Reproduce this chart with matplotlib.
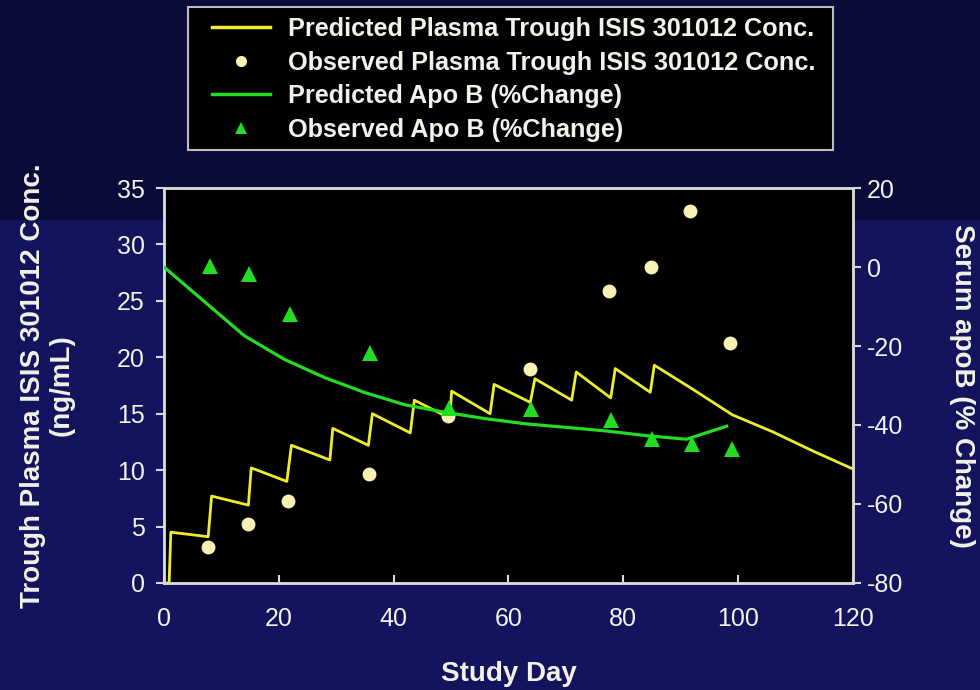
import matplotlib
matplotlib.use('Agg')
from matplotlib import pyplot as plt
from matplotlib.lines import Line2D
from matplotlib.patches import Rectangle

# ----------------------- Data -------------------------------------------------------------------
# Predicted plasma trough ISIS 301012 conc. (ng/mL), left axis
pred_conc_day = [0, 0.9, 1.2, 7.7, 8.3, 14.7, 15.2, 21.4, 22.2, 28.9, 29.4, 35.6, 36.3, 42.9,
                 43.6, 49.8, 50.1, 56.8, 57.5, 63.8, 64.6, 71.0, 71.8, 77.8, 78.6, 84.7, 85.4,
                 92, 99, 106, 113, 120]
pred_conc = [0, 0, 4.5, 4.1, 7.7, 6.9, 10.2, 9.0, 12.2, 10.9, 13.7, 12.2, 15.0, 13.3,
             16.2, 14.6, 17.0, 15.0, 17.6, 16.0, 18.1, 16.2, 18.7, 16.4, 19.0, 16.9, 19.3,
             17.2, 14.9, 13.4, 11.7, 10.1]
# Observed plasma trough conc. (ng/mL), left axis
obs_conc_day = [7.7, 14.6, 21.6, 35.7, 49.5, 63.8, 77.5, 84.8, 91.6, 98.6]
obs_conc = [3.2, 5.2, 7.3, 9.7, 14.8, 19.0, 25.9, 28.0, 33.0, 21.3]
# Predicted apo B (% change), right axis
pred_apob_day = [0, 7, 14, 21, 28, 35, 42, 49, 56, 63, 70, 77, 84, 91, 98]
pred_apob = [0, -8.7, -17.4, -23.4, -28.0, -31.8, -34.9, -36.8, -38.4, -39.7, -40.6, -41.5,
             -42.7, -43.6, -40.3]
# Observed apo B (% change), right axis
obs_apob_day = [8.0, 14.8, 22.0, 35.9, 49.7, 64.0, 77.8, 85.0, 91.9, 99.0]
obs_apob = [0.3, -1.8, -11.8, -21.8, -35.8, -36.0, -38.7, -43.6, -44.9, -46.2]

x_ticks = [0, 20, 40, 60, 80, 100, 120]
left_ticks = [0, 5, 10, 15, 20, 25, 30, 35]
right_ticks = [-80, -60, -40, -20, 0, 20]

legend_labels = ['Predicted Plasma Trough ISIS 301012 Conc.',
                 'Observed Plasma Trough ISIS 301012 Conc.',
                 'Predicted Apo B (%Change)',
                 'Observed Apo B (%Change)']

# ----------------------- Styles -----------------------------------------------------------------
TXT = '#f2f2e8'
SPINE = '#d9d9d9'
YEL_LINE = '#eded2e'
YEL_DOT = '#f7f2b4'
GRN = '#22dd22'
plt.rcParams['font.family'] = ['Liberation Sans', 'DejaVu Sans']
plt.rcParams['axes.unicode_minus'] = False

fig = plt.figure(figsize=(9.8, 6.9), dpi=100)
fig.patch.set_facecolor('#13135e')
# darker band along the top of the slide, behind everything
bg = fig.add_axes([0, 0.681, 1, 0.319], zorder=-10)
bg.set_axis_off()
bg.add_artist(Rectangle((0, 0), 1, 1, transform=bg.transAxes, color='#0b0b3a'))

ax = fig.add_axes([0.1673, 0.1551, 0.7031, 0.5724])
ax.set_facecolor('black')
ax2 = ax.twinx()

ax.plot(pred_conc_day, pred_conc, color=YEL_LINE, lw=2.0, zorder=3)
ax2.plot(pred_apob_day, pred_apob, color=GRN, lw=2.3, zorder=3)
ax2.plot(obs_apob_day, obs_apob, linestyle='none', marker='^', ms=11, color=GRN,
         markeredgewidth=0, zorder=4)
ax.plot(obs_conc_day, obs_conc, linestyle='none', marker='o', ms=10, color=YEL_DOT,
        markeredgewidth=0, zorder=4)

ax.set_xlim(0, 120)
ax.set_ylim(0, 35)
ax2.set_ylim(-80, 20)
ax.set_xticks(x_ticks)
ax.set_yticks(left_ticks)
ax2.set_yticks(right_ticks)

for a in (ax, ax2):
    for s in a.spines.values():
        s.set_color(SPINE)
        s.set_linewidth(1.8)
ax.tick_params(axis='x', direction='in', length=6, width=1.5, color=SPINE,
               labelcolor=TXT, labelsize=18, pad=17)
ax.tick_params(axis='y', direction='out', length=6, width=1.5, color=SPINE,
               labelcolor=TXT, labelsize=18, pad=8)
ax2.tick_params(axis='y', direction='out', length=6, width=1.5, color=SPINE,
                labelcolor=TXT, labelsize=18, pad=4)

ax.set_xlabel('Study Day', color=TXT, fontsize=20, fontweight='bold', labelpad=22)
ax.set_ylabel('Trough Plasma ISIS 301012 Conc.\n(ng/mL)', color=TXT, fontsize=20,
              fontweight='bold', labelpad=30, linespacing=1.15)
ax2.set_ylabel('Serum apoB (% Change)', color=TXT, fontsize=20, fontweight='bold',
               rotation=270, labelpad=52)

# legend box drawn on its own so the entries can sit a bit in from its left edge
fig.add_artist(Rectangle((0.192, 0.783), 0.658, 0.207, transform=fig.transFigure,
                         facecolor='black', edgecolor='#bdbdbd', lw=1.5, zorder=1))
handles = [Line2D([], [], color=YEL_LINE, lw=2.5),
           Line2D([], [], linestyle='none', marker='o', ms=8, color=YEL_DOT, markeredgewidth=0),
           Line2D([], [], color=GRN, lw=2.5),
           Line2D([], [], linestyle='none', marker='^', ms=9, color=GRN, markeredgewidth=0)]
leg = fig.legend(handles, legend_labels, loc='upper left', bbox_to_anchor=(0.206, 0.99),
                 borderaxespad=0, frameon=False, handlelength=2.3, handletextpad=0.7,
                 labelspacing=0.38, borderpad=0.4, prop={'weight': 'bold', 'size': 18.2})
for t in leg.get_texts():
    t.set_color(TXT)

fig.savefig('out.png', dpi=100, facecolor=fig.get_facecolor())
